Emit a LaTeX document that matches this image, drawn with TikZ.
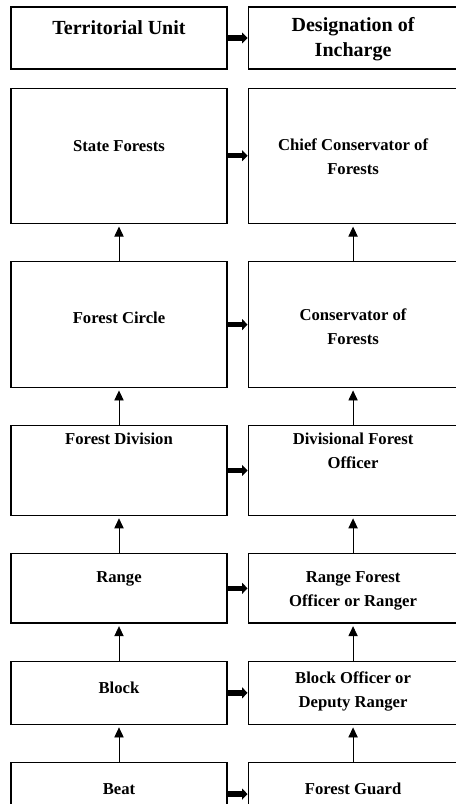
\documentclass[tikz,border=0pt]{standalone}
\usepackage{fontspec}
\setmainfont{Liberation Serif}
\usetikzlibrary{positioning,arrows.meta}

\begin{document}
\begin{tikzpicture}[
    x=0.75pt, y=-0.75pt,
    node distance=28.1pt and 15pt,   % gap between the boxes
    lbox/.style = {draw, line width=0.8pt, minimum width=162pt},
    rbox/.style = {draw, line width=0.8pt, minimum width=157.5pt},
    head/.style = {font=\fontsize{15}{19}\selectfont\bfseries, align=center},
    txt/.style  = {font=\fontsize{12.5}{18}\selectfont\bfseries, align=center},
    uparr/.style = {-{Triangle[width=7pt,length=7.5pt]}, line width=0.6pt, shorten >=2pt},
    sidearr/.style = {-{Triangle[width=8pt,length=4pt]}, line width=4pt}
  ]
    \clip (0,0) rectangle (456,804);

    % territorial units (left) and their incharge (right)
    \node[lbox, minimum height=46.5pt] (L1) at (119,38) {};
    \node[rbox, minimum height=46.5pt, right=of L1] (R1) {};
    \node[lbox, minimum height=101.5pt, below=13.5pt of L1] (L2) {};
    \node[rbox, minimum height=101.5pt, right=of L2] (R2) {};
    \node[lbox, minimum height=94pt, below=of L2] (L3) {};
    \node[rbox, minimum height=94pt, right=of L3] (R3) {};
    \node[lbox, minimum height=67pt, below=of L3] (L4) {};
    \node[rbox, minimum height=67pt, right=of L4] (R4) {};
    \node[lbox, minimum height=52pt, below=of L4] (L5) {};
    \node[rbox, minimum height=52pt, right=of L5] (R5) {};
    \node[lbox, minimum height=47pt, below=of L5] (L6) {};
    \node[rbox, minimum height=47pt, right=of L6] (R6) {};
    \node[lbox, minimum height=47pt, below=of L6] (L7) {};
    \node[rbox, minimum height=47pt, right=of L7] (R7) {};

    % texts, set a little above the middle of each box
    \node[head, yshift=8pt] (tL1) at (L1) {Territorial Unit};
    \node[head, yshift=-1pt] (tR1) at (R1) {Designation of\\Incharge};
    \node[txt, yshift=7pt] (tL2) at (L2) {State Forests};
    \node[txt, yshift=-1pt] (tR2) at (R2) {Chief Conservator of\\Forests};
    \node[txt, yshift=5pt] (tL3) at (L3) {Forest Circle};
    \node[txt, yshift=-1.5pt] (tR3) at (R3) {Conservator of\\Forests};
    \node[txt, yshift=24pt] (tL4) at (L4) {Forest Division};
    \node[txt, yshift=15pt] (tR4) at (R4) {Divisional Forest\\Officer};
    \node[txt, yshift=7pt] (tL5) at (L5) {Range};
    \node[txt, yshift=-2pt] (tR5) at (R5) {Range Forest\\Officer or Ranger};
    \node[txt, yshift=4pt] (tL6) at (L6) {Block};
    \node[txt, yshift=1pt] (tR6) at (R6) {Block Officer or\\Deputy Ranger};
    \node[txt, yshift=4pt] (tL7) at (L7) {Beat};
    \node[txt, yshift=4pt] (tR7) at (R7) {Forest Guard};

    % each unit points to its incharge
    \foreach \i in {1,...,7}
      \draw[sidearr] (L\i) -- (R\i);

    % lower levels point up
    \foreach \i/\j in {3/2,4/3,5/4,6/5,7/6} {
      \draw[uparr] (L\i) -- (L\j);
      \draw[uparr] (R\i) -- (R\j);
    }
  \end{tikzpicture}
\end{document}
